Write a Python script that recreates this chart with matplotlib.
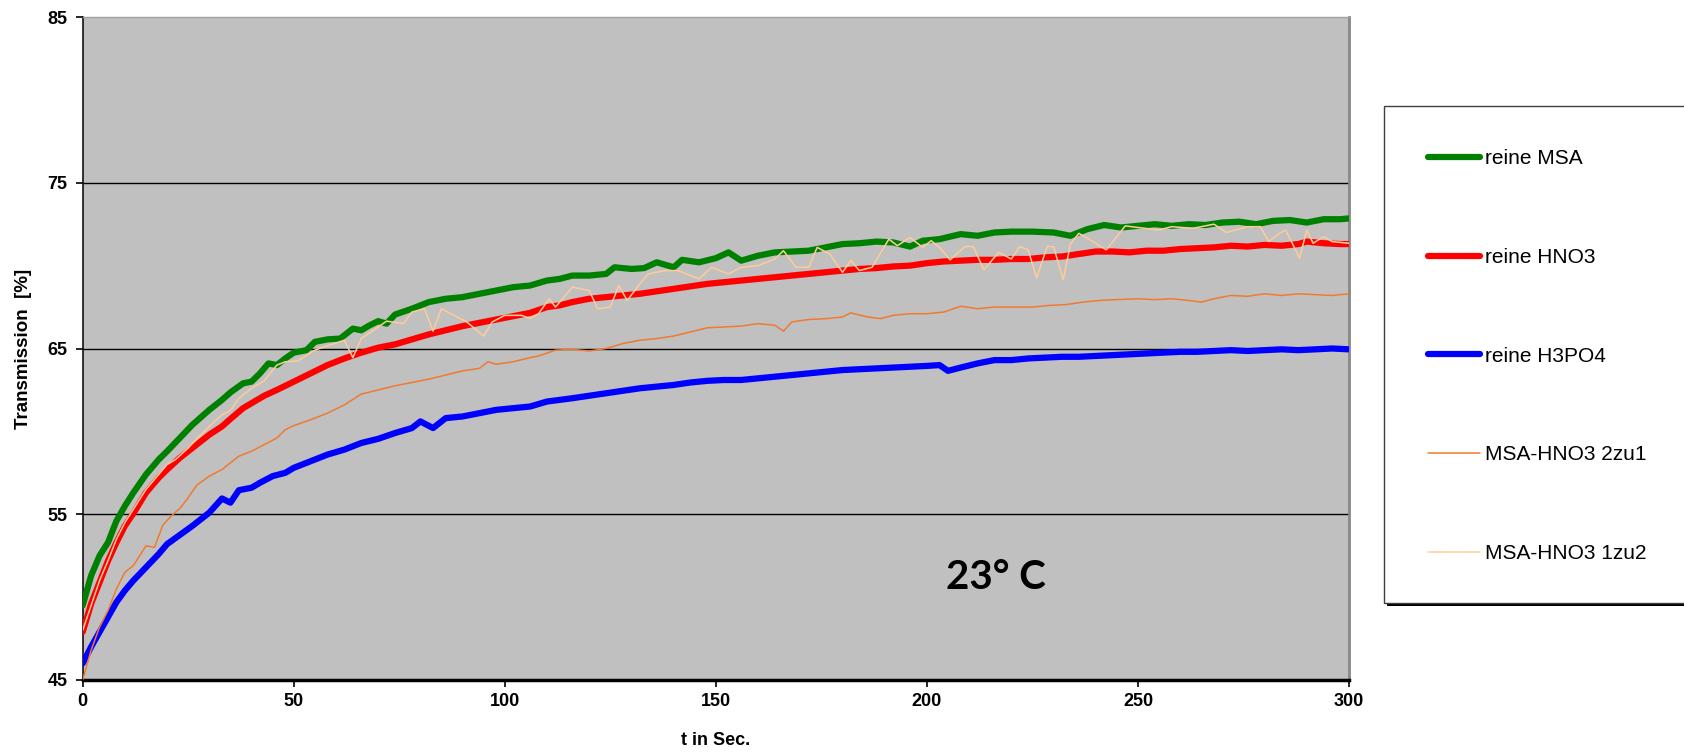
import matplotlib.pyplot as plt
from matplotlib.patches import Rectangle
from matplotlib.lines import Line2D

# values (t in s, transmission in %)
t_msa = [0, 2, 4, 6, 8, 10, 12, 15, 18, 20, 23, 26, 30, 33, 35, 38, 40, 42, 44, 46,
         48, 50, 53, 55, 58, 61, 64, 66, 68, 70, 72, 74, 78, 82, 86, 90, 94, 98, 102, 106,
         110, 113, 116, 120, 124, 126, 130, 133, 136, 140, 142, 146, 150, 153, 156, 160, 164, 168, 172, 176,
         180, 184, 188, 192, 196, 199, 203, 208, 212, 216, 220, 225, 230, 234, 238, 242, 246, 250, 254, 258,
         262, 266, 270, 274, 278, 282, 286, 290, 294, 298, 300]
msa = [49.5, 51.3, 52.5, 53.3, 54.6, 55.5, 56.3, 57.4, 58.3, 58.8, 59.6, 60.4, 61.3, 61.9, 62.35, 62.9, 63.0, 63.5, 64.1, 64.0,
       64.4, 64.75, 64.9, 65.4, 65.55, 65.6, 66.2, 66.1, 66.4, 66.65, 66.5, 67.05, 67.4, 67.8, 68.0, 68.1, 68.3, 68.5, 68.7, 68.8,
       69.1, 69.2, 69.4, 69.4, 69.5, 69.9, 69.8, 69.85, 70.2, 69.9, 70.35, 70.2, 70.45, 70.8, 70.3, 70.6, 70.8, 70.85, 70.9, 71.1,
       71.3, 71.35, 71.45, 71.4, 71.15, 71.5, 71.6, 71.9, 71.8, 72.0, 72.05, 72.05, 72.0, 71.8, 72.2, 72.45, 72.3, 72.4, 72.5, 72.4,
       72.5, 72.45, 72.6, 72.65, 72.5, 72.7, 72.75, 72.6, 72.8, 72.8, 72.85]

t_hno3 = [0, 2, 4, 6, 8, 10, 12, 15, 18, 20, 23, 26, 30, 33, 35, 38, 40, 43, 46, 50,
          54, 58, 62, 66, 70, 74, 78, 82, 86, 90, 94, 98, 102, 106, 110, 113, 116, 120, 124, 128,
          132, 136, 140, 144, 148, 152, 156, 160, 164, 168, 172, 176, 180, 184, 188, 192, 196, 200, 204, 208,
          212, 216, 220, 224, 228, 232, 236, 240, 244, 248, 252, 256, 260, 264, 268, 272, 276, 280, 284, 288,
          290, 294, 298, 300]
hno3 = [47.9, 49.6, 50.9, 52.2, 53.3, 54.3, 55.05, 56.3, 57.2, 57.7, 58.4, 59.0, 59.8, 60.3, 60.75, 61.4, 61.7, 62.15, 62.5, 63.0,
        63.5, 64.0, 64.4, 64.75, 65.05, 65.25, 65.55, 65.85, 66.1, 66.35, 66.55, 66.75, 66.95, 67.15, 67.5, 67.6, 67.8, 68.0, 68.1, 68.2,
        68.3, 68.45, 68.6, 68.75, 68.9, 69.0, 69.1, 69.2, 69.3, 69.4, 69.5, 69.6, 69.7, 69.8, 69.85, 69.95, 70.0, 70.15, 70.25, 70.3,
        70.35, 70.35, 70.4, 70.4, 70.5, 70.55, 70.7, 70.85, 70.85, 70.8, 70.9, 70.9, 71.0, 71.05, 71.1, 71.2, 71.15, 71.25, 71.2, 71.3,
        71.45, 71.35, 71.3, 71.3]

t_h3po4 = [0, 2, 4, 6, 8, 10, 12, 15, 18, 20, 23, 26, 30, 33, 35, 37, 40, 42, 45, 48,
           50, 54, 58, 62, 66, 70, 74, 78, 80, 83, 86, 90, 94, 98, 102, 106, 110, 113, 116, 120,
           124, 128, 132, 136, 140, 144, 148, 152, 156, 160, 164, 168, 172, 176, 180, 184, 188, 192, 196, 200,
           203, 205, 208, 212, 216, 220, 224, 228, 232, 236, 240, 244, 248, 252, 256, 260, 264, 268, 272, 276,
           280, 284, 288, 292, 296, 300]
h3po4 = [46.0, 47.0, 47.9, 48.8, 49.7, 50.4, 51.0, 51.8, 52.6, 53.2, 53.75, 54.3, 55.1, 55.95, 55.7, 56.45, 56.6, 56.9, 57.3, 57.5,
         57.8, 58.2, 58.6, 58.9, 59.3, 59.55, 59.9, 60.2, 60.6, 60.2, 60.8, 60.9, 61.1, 61.3, 61.4, 61.5, 61.8, 61.9, 62.0, 62.15,
         62.3, 62.45, 62.6, 62.7, 62.8, 62.95, 63.05, 63.1, 63.1, 63.2, 63.3, 63.4, 63.5, 63.6, 63.7, 63.75, 63.8, 63.85, 63.9, 63.95,
         64.0, 63.65, 63.85, 64.1, 64.3, 64.3, 64.4, 64.45, 64.5, 64.5, 64.55, 64.6, 64.65, 64.7, 64.75, 64.8, 64.8, 64.85, 64.9, 64.85,
         64.9, 64.95, 64.9, 64.95, 65.0, 64.95]

t_2zu1 = [0, 2, 4, 6, 8, 10, 12, 15, 17, 19, 21, 23, 25, 27, 30, 33, 35, 37, 40, 43,
          46, 48, 50, 54, 58, 62, 66, 70, 74, 78, 82, 86, 90, 94, 96, 98, 102, 106, 108, 112,
          116, 120, 124, 128, 132, 136, 140, 144, 148, 152, 156, 160, 164, 166, 168, 172, 176, 180, 182, 186,
          189, 192, 196, 200, 204, 208, 212, 216, 220, 225, 229, 233, 237, 241, 245, 250, 254, 258, 262, 265,
          268, 272, 276, 280, 284, 288, 292, 296, 300]
mix_2zu1 = [45.0, 46.8, 48.2, 49.2, 50.5, 51.5, 51.9, 53.1, 53.0, 54.35, 54.9, 55.35, 56.0, 56.75, 57.3, 57.7, 58.1, 58.5, 58.8, 59.2,
            59.6, 60.1, 60.35, 60.7, 61.1, 61.6, 62.25, 62.5, 62.75, 62.95, 63.15, 63.4, 63.65, 63.8, 64.2, 64.05, 64.2, 64.45, 64.55, 64.9,
            64.95, 64.85, 65.0, 65.3, 65.5, 65.6, 65.75, 66.0, 66.25, 66.3, 66.35, 66.5, 66.4, 66.05, 66.6, 66.75, 66.8, 66.9, 67.15, 66.9,
            66.8, 67.0, 67.1, 67.1, 67.2, 67.55, 67.4, 67.5, 67.5, 67.5, 67.6, 67.65, 67.8, 67.9, 67.95, 68.0, 67.95, 68.0, 67.9, 67.8,
            68.0, 68.2, 68.15, 68.3, 68.2, 68.3, 68.25, 68.2, 68.3]

t_1zu2 = [0, 2, 4, 6, 8, 10, 12, 15, 18, 20, 22, 25, 28, 30, 33, 35, 37, 40, 43, 46,
          48, 51, 55, 59, 62, 64, 66, 70, 72, 76, 78, 81, 83, 85, 88, 91, 95, 97, 100, 104,
          106, 108, 110.5, 112, 116, 120, 122, 125, 127, 129, 132, 134, 138, 141, 146, 149, 153, 156, 160, 164,
          166, 169, 172, 174, 177, 180, 182, 184, 187, 191, 193, 196, 199, 201, 203, 205.5, 209, 211, 213.5, 217,
          220, 222, 224, 226, 228.5, 230, 232.3, 234, 236, 239, 242.5, 247, 250, 255, 258, 263, 268, 271, 276, 279,
          281, 283.5, 285, 288.3, 290, 291.5, 294, 296, 300]
mix_1zu2 = [48.0, 49.5, 51.0, 52.2, 53.5, 54.5, 55.3, 56.5, 57.4, 58.0, 58.3, 59.0, 59.8, 60.3, 61.0, 61.25, 62.0, 62.6, 63.05, 64.0,
            64.2, 64.25, 64.9, 65.25, 65.5, 64.45, 65.6, 66.3, 66.65, 66.5, 67.2, 67.4, 66.05, 67.4, 67.0, 66.6, 65.75, 66.6, 67.0, 67.0,
            66.8, 67.1, 68.0, 67.5, 68.7, 68.5, 67.4, 67.5, 68.8, 67.9, 68.9, 69.5, 69.7, 69.7, 69.2, 69.9, 69.5, 69.9, 70.0, 70.4,
            70.9, 69.9, 69.9, 71.1, 70.7, 69.6, 70.3, 69.7, 69.9, 71.6, 71.2, 71.7, 71.1, 71.5, 71.1, 70.35, 71.15, 71.15, 69.75, 70.8,
            70.4, 71.15, 70.95, 69.25, 71.15, 71.15, 69.15, 71.3, 71.95, 71.5, 70.95, 72.4, 72.3, 72.15, 72.35, 72.25, 72.5, 72.0, 72.35, 72.35,
            71.45, 71.95, 72.15, 70.45, 72.15, 71.35, 71.75, 71.45, 71.35]

labels = ['reine MSA', 'reine HNO3', 'reine H3PO4', 'MSA-HNO3 2zu1', 'MSA-HNO3 1zu2']
colors = ['#008000', '#FF0000', '#0000FF', '#F07A30', '#FFCC99']
widths = [4.5, 4.5, 4.5, 1.1, 1.1]

x_ticks = [0, 50, 100, 150, 200, 250, 300]
y_ticks = [45, 55, 65, 75, 85]
grid_levels = [55, 65, 75]

plt.rcParams['font.family'] = ['Liberation Sans', 'DejaVu Sans']

fig = plt.figure(figsize=(16.84, 7.52), dpi=100, facecolor='white')
ax = fig.add_axes([82.7 / 1684, 72 / 752, 1266.3 / 1684, 663 / 752])
ax.set_facecolor('#C0C0C0')

ax.hlines(grid_levels, 0, 300, colors='black', linewidth=1.0, zorder=1)

series = [(t_msa, msa), (t_hno3, hno3), (t_h3po4, h3po4), (t_2zu1, mix_2zu1), (t_1zu2, mix_1zu2)]
handles = []
for (tt, vv), lab, c, w in zip(series, labels, colors, widths):
    ax.plot(tt, vv, color=c, linewidth=w, label=lab, zorder=3,
            solid_joinstyle='round', solid_capstyle='round')
    handles.append(Line2D([], [], color=c, linewidth=w, solid_capstyle='round'))

ax.set_xlim(0, 300)
ax.set_ylim(45, 85)
ax.set_xticks(x_ticks)
ax.set_yticks(y_ticks)
ax.tick_params(axis='both', direction='out', length=5, width=1.2, labelsize=13, color='black')
ax.tick_params(axis='y', pad=6)
ax.tick_params(axis='x', pad=4)
for lbl in ax.get_xticklabels() + ax.get_yticklabels():
    lbl.set_fontweight('bold')

ax.spines['left'].set_color('black')
ax.spines['left'].set_linewidth(1.1)
ax.spines['bottom'].set_color('black')
ax.spines['bottom'].set_linewidth(2.5)
ax.spines['right'].set_color('#888888')
ax.spines['right'].set_linewidth(2.0)
ax.spines['top'].set_color('#A0A0A0')
ax.spines['top'].set_linewidth(1.0)

ax.set_xlabel('t in Sec.', fontsize=13, fontweight='bold')
ax.xaxis.set_label_coords(0.5, -0.0905)
ax.xaxis.label.set_va('center')
ax.set_ylabel('Transmission  [%]', fontsize=13.5, fontweight='bold')
ax.yaxis.set_label_coords(-0.0464, 0.5)
ax.yaxis.label.set_va('center')

ax.text(216.3, 51.2, '23° C', fontsize=29, fontweight='bold', family=['Lato', 'DejaVu Sans'],
        ha='center', va='center', zorder=4)

# legend box (runs off the right edge like the original)
x0, y_top, y_bot = 1383.5 / 1684, 1 - 106 / 752, 1 - 603 / 752
fig.patches.append(Rectangle((x0 + 3 / 1684, y_bot - 3 / 752), 0.3, y_top - y_bot,
                             transform=fig.transFigure, facecolor='black', edgecolor='none', zorder=0))
fig.patches.append(Rectangle((x0, y_bot), 0.3, y_top - y_bot, transform=fig.transFigure,
                             facecolor='white', edgecolor='#404040', linewidth=1.0, zorder=1))

fig.legend(handles, labels, loc='upper left', bbox_to_anchor=(1428 / 1684, 1 - 149.5 / 752),
           frameon=False, fontsize=15, handlelength=2.5, handletextpad=0.25,
           labelspacing=3.82, borderpad=0, borderaxespad=0)

fig.savefig('out.png', dpi=100)
